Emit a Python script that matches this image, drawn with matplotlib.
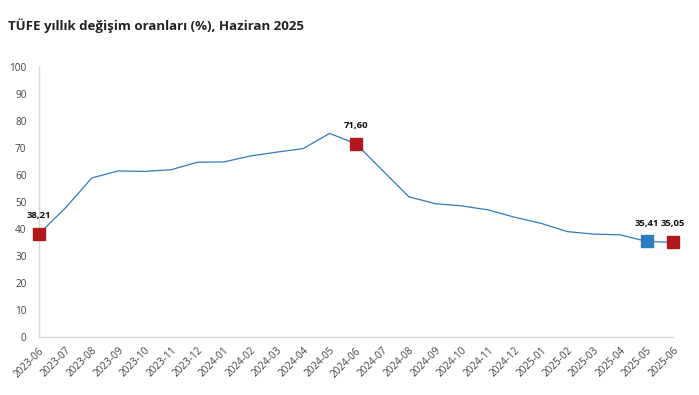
import matplotlib
matplotlib.use("Agg")
import matplotlib.pyplot as plt

plt.rcParams['font.family'] = ['Open Sans', 'DejaVu Sans']

months = ['2023-06', '2023-07', '2023-08', '2023-09', '2023-10', '2023-11', '2023-12',
          '2024-01', '2024-02', '2024-03', '2024-04', '2024-05', '2024-06', '2024-07',
          '2024-08', '2024-09', '2024-10', '2024-11', '2024-12', '2025-01', '2025-02',
          '2025-03', '2025-04', '2025-05', '2025-06']
tufe = [38.21, 47.83, 58.94, 61.53, 61.36, 61.98, 64.77, 64.86, 67.07, 68.50, 69.80,
        75.45, 71.60, 61.78, 51.97, 49.38, 48.58, 47.09, 44.38, 42.12, 39.05, 38.10,
        37.86, 35.41, 35.05]

# işaretli noktalar: (ay, renk)
highlights = [('2023-06', '#b0181e'), ('2024-06', '#b0181e'),
              ('2025-05', '#2e7bbf'), ('2025-06', '#b0181e')]

line_color = '#2e7bbf'
axis_color = '#d9d9d9'

fig = plt.figure(figsize=(6.99, 3.95), dpi=100)
ax = fig.add_axes([0.0558, 0.147, 0.907, 0.683])

x = list(range(len(months)))
ax.plot(x, tufe, color=line_color, linewidth=0.9, zorder=2)

for m, c in highlights:
    i = months.index(m)
    ax.plot(i, tufe[i], marker='s', markersize=8.5, color=c, markeredgecolor=c, zorder=3)
    ax.annotate(f"{tufe[i]:.2f}".replace('.', ','), (i, tufe[i]), xytext=(0, 10),
                textcoords='offset points', ha='center', va='bottom',
                fontsize=6.8, fontweight='bold', color='#111111')

ax.set_xlim(0, len(months) - 1)
ax.set_ylim(0, 100)
ax.set_yticks(range(0, 101, 10))
ax.set_xticks(x)
ax.set_xticklabels(months, rotation=45, ha='right', rotation_mode='anchor')
ax.tick_params(axis='both', length=0, labelsize=7.2, labelcolor='#444444')
ax.tick_params(axis='y', pad=9)
ax.tick_params(axis='x', pad=6)

for s in ['top', 'right']:
    ax.spines[s].set_visible(False)
for s in ['left', 'bottom']:
    ax.spines[s].set_color(axis_color)
    ax.spines[s].set_linewidth(1)

fig.text(0.011, 0.935, 'TÜFE yıllık değişim oranları (%), Haziran 2025',
         fontsize=9.5, fontweight='bold', color='#222222', va='center')

for line in ax.lines:
    line.set_clip_on(False)

fig.savefig('out.png', dpi=100)
